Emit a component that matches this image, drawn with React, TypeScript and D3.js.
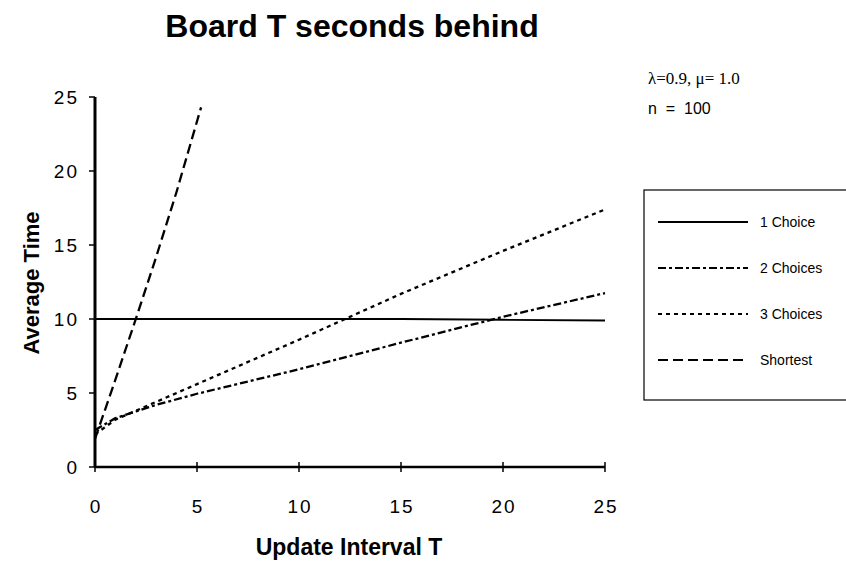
import React from "react";
import * as d3 from "d3";

const xTicks = [0, 5, 10, 15, 20, 25];
const yTicks = [0, 5, 10, 15, 20, 25];

const oneChoice: [number, number][] = [[0, 10], [5, 10], [10, 10], [15, 10], [20, 9.95], [25, 9.9]];
const twoChoices: [number, number][] = [[0, 2.5], [1, 3.3], [3, 4.2], [5, 4.95], [10, 6.6], [15, 8.4], [20, 10.15], [25, 11.75]];
const threeChoices: [number, number][] = [[0, 2.2], [1, 3.2], [3, 4.4], [5, 5.6], [10, 8.6], [15, 11.7], [20, 14.6], [25, 17.4]];
const shortest: [number, number][] = [[0, 1.9], [1, 5.9], [2, 10], [3, 14.2], [4, 18.6], [5.2, 24.3]];

const seriesNames = ["1 Choice", "2 Choices", "3 Choices", "Shortest"];
const seriesData = [oneChoice, twoChoices, threeChoices, shortest];
const dashes = ["none", "8 3 3 3", "4 4", "10 5"];

export default function App() {
  const x = d3.scaleLinear().domain([0, 25]).range([95, 605]);
  const y = d3.scaleLinear().domain([0, 25]).range([467, 97]);
  const line = d3.line<[number, number]>().x((d) => x(d[0])).y((d) => y(d[1]));
  const sans = "'Liberation Sans', Arial, Helvetica, sans-serif";
  const serif = "'Liberation Serif', 'Times New Roman', serif";
  const legendRows = [222, 268, 314, 360];

  return (
    <svg width={846} height={567} style={{ position: "absolute", left: 0, top: 0, background: "#fff" }}>
      <rect x={0} y={0} width={846} height={567} fill="#fff" />
      <text x={352} y={37} textAnchor="middle" fontFamily={sans} fontWeight="bold" fontSize={32} fill="#000">
        Board T seconds behind
      </text>

      {/* data lines */}
      {seriesData.map((s, i) => (
        <path key={i} d={line(s) || ""} fill="none" stroke="#000" strokeWidth={i === 0 ? 1.8 : 2.3} strokeDasharray={dashes[i]} />
      ))}

      {/* axes */}
      <line x1={x(0)} x2={x(0)} y1={y(25)} y2={y(0)} stroke="#000" strokeWidth={3} />
      <line x1={x(0)} x2={x(25)} y1={y(0)} y2={y(0)} stroke="#000" strokeWidth={2.5} />
      {yTicks.map((t) => (
        <g key={"y" + t}>
          <line x1={x(0) - 6} x2={x(0)} y1={y(t)} y2={y(t)} stroke="#000" strokeWidth={1.5} />
          <text x={79} y={y(t) + 7} textAnchor="end" fontFamily={sans} fontSize={19} letterSpacing={2} fill="#000">
            {t}
          </text>
        </g>
      ))}
      {xTicks.map((t) => (
        <g key={"x" + t}>
          <line x1={x(t)} x2={x(t)} y1={y(0) - 5} y2={y(0) + 5} stroke="#000" strokeWidth={1.5} />
          <text x={x(t) + 1} y={513} textAnchor="middle" fontFamily={sans} fontSize={19} letterSpacing={2} fill="#000">
            {t}
          </text>
        </g>
      ))}

      <text x={349} y={555} textAnchor="middle" fontFamily={sans} fontWeight="bold" fontSize={23} fill="#000">
        Update Interval T
      </text>
      <text transform="translate(39,283) rotate(-90)" textAnchor="middle" fontFamily={sans} fontWeight="bold" fontSize={22} fill="#000">
        Average Time
      </text>

      {/* annotation */}
      <text x={648} y={84} fontFamily={serif} fontSize={17} fill="#000">λ=0.9, μ= 1.0</text>
      <text x={648} y={114} fontFamily={sans} fontSize={16} fill="#000" xmlSpace="preserve">n  =  100</text>

      {/* legend */}
      <rect x={644} y={190} width={210} height={210} fill="none" stroke="#000" strokeWidth={1.2} />
      {seriesNames.map((n, i) => (
        <g key={n}>
          <line x1={658} x2={748} y1={legendRows[i]} y2={legendRows[i]} stroke="#000" strokeWidth={i === 0 ? 1.8 : 2} strokeDasharray={dashes[i]} />
          <text x={760} y={legendRows[i] + 5} fontFamily={sans} fontSize={14} fill="#000">{n}</text>
        </g>
      ))}
    </svg>
  );
}
